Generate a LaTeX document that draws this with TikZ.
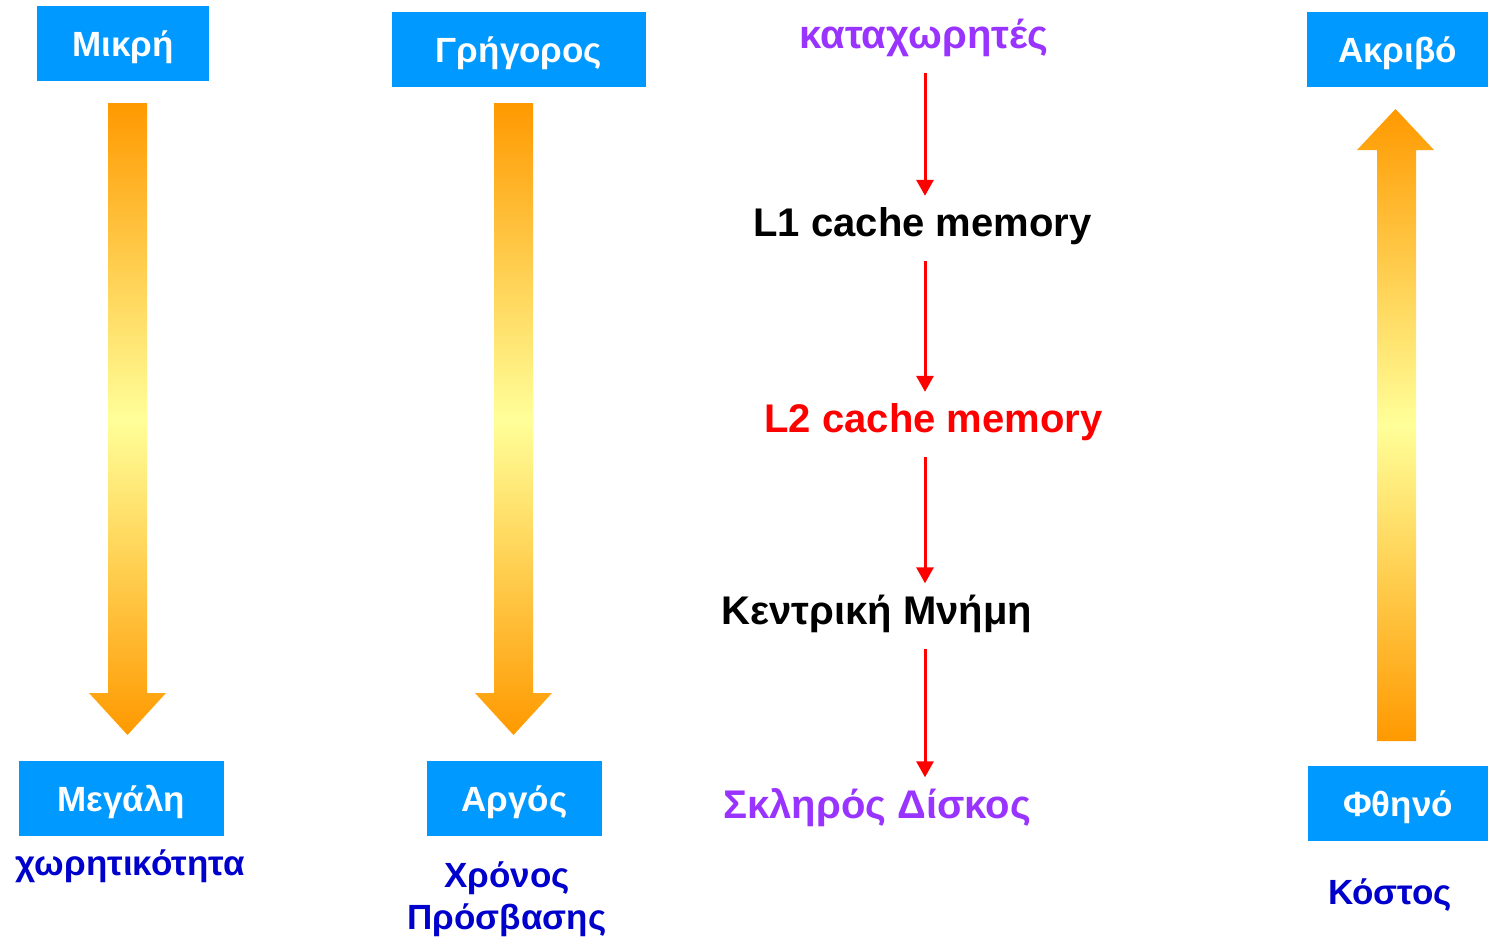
\documentclass[tikz,border=0pt]{standalone}
\usepackage{fontspec}
\setmainfont{Liberation Sans}
\usetikzlibrary{arrows.meta, positioning}

\definecolor{boxblue}{HTML}{0099FF}
\definecolor{barorange}{HTML}{FF9900}
\definecolor{baryellow}{HTML}{FFFF99}
\definecolor{regpurple}{HTML}{9933FF}
\definecolor{labelblue}{HTML}{0000CC}

\begin{document}
\begin{tikzpicture}[x=0.5pt, y=-0.5pt,
  box/.style={fill=boxblue, text=white, font=\fontsize{17.5}{21}\selectfont\bfseries,
    text height=12.6pt, text depth=0pt, minimum height=37.5pt, inner sep=0pt},
  level/.style={font=\fontsize{20}{24}\selectfont\bfseries,
    text height=14.3pt, text depth=0pt, inner sep=0pt},
  caption/.style={text=labelblue, font=\fontsize{17.5}{21}\selectfont\bfseries,
    text height=12.6pt, text depth=0pt, inner sep=0pt, align=center},
  flow/.style={red, line width=1.5pt, -{Triangle[width=8.5pt, length=8pt]},
    shorten <=12pt, shorten >=6pt},
  bar/.style={top color=barorange, bottom color=barorange, middle color=baryellow}]

\useasboundingbox (0,0) rectangle (1488,938);

% big shaded arrows
\foreach \x in {127.5, 513.5}
  \shade[bar] (\x-19.5,103) -- (\x+19.5,103) -- (\x+19.5,693) -- (\x+38.5,693)
    -- (\x,735) -- (\x-38.5,693) -- (\x-19.5,693) -- cycle;
\shade[bar] (1377,741) -- (1416,741) -- (1416,150) -- (1434,150) -- (1395.5,109)
  -- (1357,150) -- (1377,150) -- cycle;

% blue boxes
\node[box, minimum width=86pt] (small) at (123,43.5) {Μικρή};
\node[box, minimum width=127pt] (fast) at (519,49.5) {Γρήγορος};
\node[box, minimum width=90.5pt] (dear) at (1397.5,49.5) {Ακριβό};
\node[box, minimum width=102.5pt] (large) at (121.5,798.5) {Μεγάλη};
\node[box, minimum width=87.5pt] (slow) at (514.5,798.5) {Αργός};
\node[box, minimum width=90pt] (cheap) at (1398,803.5) {Φθηνό};

\node[caption] (capacity) at (130,863) {χωρητικότητα};
\node[caption] (access) at (507,917) {Χρόνος\\Πρόσβασης};
\node[caption] (cost) at (1390,892) {Κόστος};

% memory levels
\node[level, text=regpurple] (reg) at (924,34) {καταχωρητές};
\node[level] (l1) at (922.5,222.5) {L1 cache memory};
\node[level, text=red] (l2) at (933.5,418.5) {L2 cache memory};
\node[level] (ram) at (877,610) {Κεντρική Μνήμη};
\node[level, text=regpurple] (disk) at (877,804) {Σκληρός Δίσκος};

\coordinate (axis) at (925,0);
\foreach \a/\b in {reg/l1, l1/l2, l2/ram, ram/disk}
  \draw[flow] (\a.south -| axis) -- (\b.north -| axis);
\end{tikzpicture}
\end{document}
